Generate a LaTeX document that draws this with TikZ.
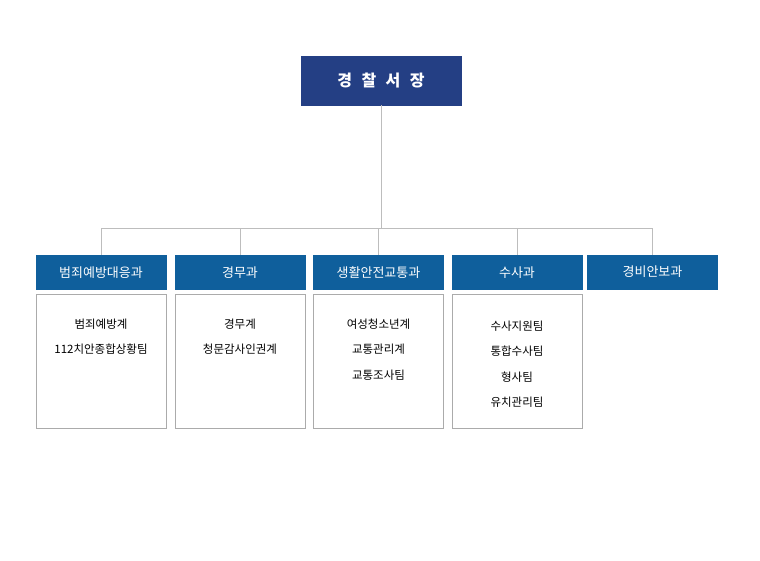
\documentclass[tikz,border=0pt]{standalone}
\usepackage{fontspec}
\setmainfont{Noto Sans CJK KR}
\usepackage{xcolor}
\usetikzlibrary{calc, positioning}

\definecolor{chiefblue}{HTML}{243F84}
\definecolor{deptblue}{HTML}{0F5F9C}
\definecolor{linegray}{HTML}{BDBDBD}
\definecolor{boxgray}{HTML}{ABABAB}

\begin{document}
\begin{tikzpicture}[
  x=1pt, y=-1pt,
  chief/.style={fill=chiefblue, draw=chiefblue, minimum width=160pt, minimum height=49pt,
                text=white, font=\fontsize{16}{18}\selectfont\bfseries},
  dept/.style={fill=deptblue, draw=deptblue, minimum width=130pt, minimum height=34pt,
               text=white, font=\fontsize{13}{15}\selectfont},
  sub/.style={draw=boxgray, fill=white, minimum width=130pt, minimum height=134pt},
  subtxt/.style={anchor=north, inner sep=0pt, align=center,
                 font=\fontsize{11.5}{25.5}\selectfont},
  link/.style={draw=linegray, line width=0.8pt},
]
\useasboundingbox (0,0) rectangle (760,560);
% Chief (top)
\node[chief] (chief) at (381, 80.5) {경\hspace{9.5pt}찰\hspace{9.5pt}서\hspace{9.5pt}장};
% Departments (middle row)
\node[dept] (d1) at (101, 272.5)   {범죄예방대응과};
\node[dept] (d2) at (240, 272.5)   {경무과};
\node[dept] (d3) at (378.5, 272.5) {생활안전교통과};
\node[dept] (d4) at (517, 272.5)   {수사과};
\node[dept] (d5) at (652.5, 272.5) {\raisebox{2pt}{경비안보과}};
% Teams (bottom row)
\node[sub] (s1) at (101, 361)   {};
\node[sub] (s2) at (240, 361)   {};
\node[sub] (s3) at (378.5, 361) {};
\node[sub] (s4) at (517, 361)   {};
\node[subtxt] (t1) at ($(s1.north)+(0,24.5)$) {범죄예방계\\112치안종합상황팀};
\node[subtxt] (t2) at ($(s2.north)+(0,24.5)$) {경무계\\청문감사인권계};
\node[subtxt] (t3) at ($(s3.north)+(0,24.5)$) {여성청소년계\\교통관리계\\교통조사팀};
\node[subtxt] (t4) at ($(s4.north)+(0,26.5)$) {수사지원팀\\통합수사팀\\형사팀\\유치관리팀};
% Connectors
\coordinate (bar) at (381, 228);
\draw[link] (chief.south) -- (chief.south |- bar);
\foreach \d in {d1,d2,d3,d4,d5}
  \draw[link] (chief.south |- bar) -| (\d.north);
\end{tikzpicture}
\end{document}
